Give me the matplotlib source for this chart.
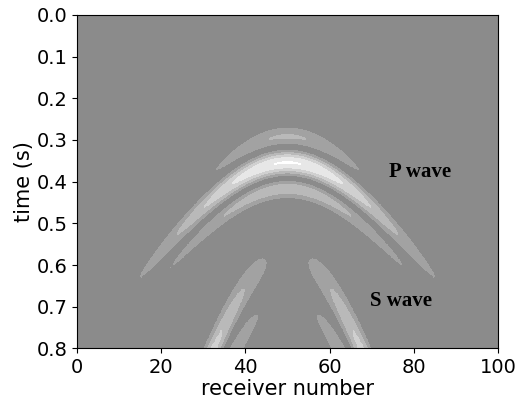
import numpy as np
import matplotlib
matplotlib.use("Agg")
import matplotlib.pyplot as plt

# survey geometry
receivers = np.arange(0, 101)
times = np.arange(0, 0.8005, 0.002)
src_rec = 50.0

# P arrival: apex time, slowness (s per receiver), wavelet lobes
p_t0 = 0.356
p_slow = 0.01468
p_delay = [-0.062, 0.0, 0.062]
p_amp = [-0.36, 0.85, -0.47]
p_sigma = [0.018, 0.020, 0.016]
p_taper = [20.0, 28.0, 28.0]

# S arrival: amplitude grows with offset from the source
s_t0 = 0.576
s_slow = 0.0319
s_delay = [0.0, 0.105]
s_amp = [0.60, -0.44]
s_sigma = [0.036, 0.032]
s_ramp = 18.0

T, X = np.meshgrid(times, receivers, indexing="ij")
off = np.abs(X - src_rec)

gather = np.zeros_like(T)
tp = np.sqrt(p_t0**2 + (p_slow*off)**2)
for d, a, sg, L in zip(p_delay, p_amp, p_sigma, p_taper):
    gather += a*np.exp(-(off/L)**2)*np.exp(-(T - tp - d)**2/(2*sg**2))

ts = np.sqrt(s_t0**2 + (s_slow*off)**2)
for d, a, sg in zip(s_delay, s_amp, s_sigma):
    gather += a*(off/s_ramp)*np.exp(-(T - ts - d)**2/(2*sg**2))

gather = np.abs(gather)

fig = plt.figure(figsize=(5.21, 4.01), dpi=100)
ax = fig.add_axes([0.148, 0.131, 0.808, 0.832])
ax.imshow(gather, cmap=plt.get_cmap("gray", 12), vmin=-1, vmax=1,
          extent=[0, 100, 0.8, 0], aspect="auto",
          interpolation="bilinear", interpolation_stage="data")
ax.set_xlim(0, 100)
ax.set_ylim(0.8, 0)
ax.set_xticks([0, 20, 40, 60, 80, 100])
ax.set_yticks(np.arange(0, 0.81, 0.1))
ax.tick_params(labelsize=14)
ax.set_xlabel("receiver number", fontsize=15, labelpad=1)
ax.set_ylabel("time (s)", fontsize=15, labelpad=2)

ax.text(74.1, 0.388, "P wave", fontsize=15, fontweight="bold",
        family="Liberation Serif")
ax.text(69.6, 0.697, "S wave", fontsize=15, fontweight="bold",
        family="Liberation Serif")

plt.savefig("out.png")
